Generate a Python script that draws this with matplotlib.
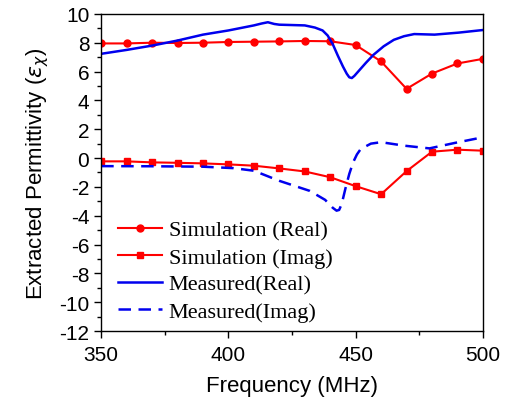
import matplotlib.pyplot as plt
from matplotlib.ticker import MultipleLocator

plt.rcParams["font.family"] = ["Liberation Sans", "DejaVu Sans"]
plt.rcParams["axes.unicode_minus"] = False

# Données
freq_sim = [350, 360, 370, 380, 390, 400, 410, 420, 430, 440, 450, 460, 470, 480, 490, 500]
sim_real = [7.95, 7.95, 8.0, 7.98, 8.0, 8.05, 8.07, 8.09, 8.12, 8.1, 7.84, 6.7, 4.8, 5.86, 6.56, 6.88]
sim_imag = [-0.23, -0.23, -0.3, -0.33, -0.37, -0.44, -0.53, -0.72, -0.93, -1.33, -1.95, -2.51, -0.91, 0.44, 0.58, 0.51]

freq_mes_real = [350, 360, 370, 380, 390, 400, 410, 413, 415.5, 418, 420, 430, 434, 437, 439, 441, 443, 445, 446.5,
                 447.5, 448.5, 449.5, 451, 454, 457, 461, 465, 469, 473, 481, 490.5, 500]
mes_real = [7.23, 7.5, 7.8, 8.15, 8.56, 8.85, 9.2, 9.33, 9.42, 9.3, 9.25, 9.2, 9.05, 8.85, 8.5, 7.9, 7.1, 6.35, 5.85,
            5.6, 5.55, 5.7, 6.0, 6.6, 7.16, 7.75, 8.2, 8.45, 8.6, 8.56, 8.7, 8.88]

freq_mes_imag = [350, 370, 390, 402, 410, 420, 432, 438, 441, 442.5, 443.5, 444.5, 446, 447.5, 449, 450.5, 452,
                 456, 460, 469, 479, 489, 500]
mes_imag = [-0.56, -0.57, -0.6, -0.7, -0.88, -1.58, -2.28, -2.9, -3.45, -3.65, -3.6, -3.2, -2.1, -1.1, -0.3, 0.25,
            0.63, 1.0, 1.1, 0.86, 0.67, 1.05, 1.44]

fig = plt.figure(figsize=(5.11, 4.02), dpi=100)
ax = fig.add_axes([0.198, 0.174, 0.747, 0.789])

rouge = "#ff0000"
bleu = "#0000ee"
ax.plot(freq_sim, sim_real, "-o", color=rouge, lw=1.5, ms=5, label="Simulation (Real)")
ax.plot(freq_sim, sim_imag, "-s", color=rouge, lw=1.5, ms=5, label="Simulation (Imag)")
ax.plot(freq_mes_real, mes_real, "-", color=bleu, lw=1.8, label="Measured(Real)")
ax.plot(freq_mes_imag, mes_imag, "--", color=bleu, lw=1.8, dashes=(5, 3), label="Measured(Imag)")

ax.set_xlim(350, 500)
ax.set_ylim(-12, 10)
ax.xaxis.set_major_locator(MultipleLocator(50))
ax.xaxis.set_minor_locator(MultipleLocator(25))
ax.yaxis.set_major_locator(MultipleLocator(2))
ax.yaxis.set_minor_locator(MultipleLocator(1))
ax.tick_params(which="major", length=5, width=1, labelsize=15)
ax.tick_params(axis="x", pad=5)
ax.tick_params(which="minor", length=3, width=1)
for s in ax.spines.values():
    s.set_linewidth(1)

ax.set_xlabel("Frequency (MHz)", fontsize=16, labelpad=8)
ax.set_ylabel(r"Extracted Permittivity ($\varepsilon_\chi$)", fontsize=16, labelpad=6)

leg = ax.legend(loc="lower left", frameon=False, prop={"family": "Liberation Serif", "size": 16},
                handlelength=2.0, handletextpad=0.3, labelspacing=0.3,
                borderaxespad=0.0, bbox_to_anchor=(0.02, 0.0))

fig.savefig("out.png", dpi=100)
